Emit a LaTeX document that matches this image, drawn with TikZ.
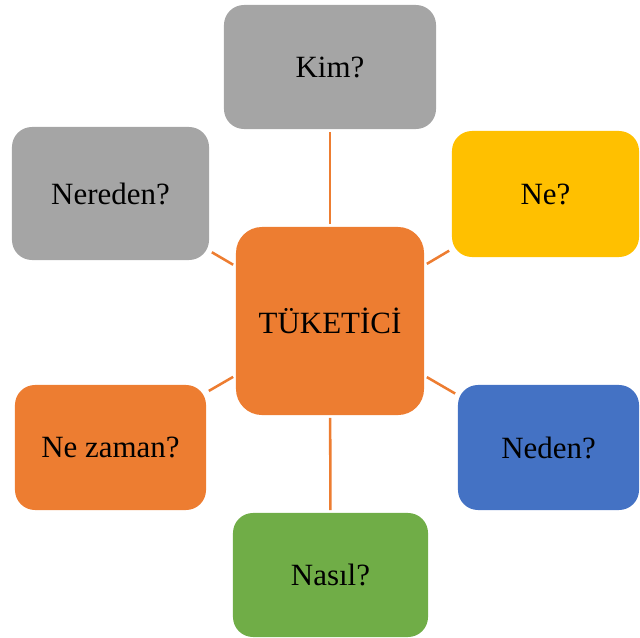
\documentclass[tikz,border=0pt]{standalone}
\usepackage{fontspec}
\setmainfont{Liberation Serif}
\definecolor{soruGri}{RGB}{165,165,165}
\definecolor{soruSari}{RGB}{255,192,0}
\definecolor{soruMavi}{RGB}{68,114,196}
\definecolor{soruYesil}{RGB}{112,173,71}
\definecolor{soruTuruncu}{RGB}{237,125,49}

\begin{document}
\begin{tikzpicture}[x=0.025cm,y=-0.025cm,
    soru/.style={rounded corners=0.5cm,inner sep=0pt,outer sep=2pt,
      font=\fontsize{22}{26}\selectfont,text=black},
    bag/.style={draw=soruTuruncu,line width=1.8pt}]
  \useasboundingbox (0,0) rectangle (640,638);
  % merkez
  \node[soru,fill=soruTuruncu,rounded corners=0.65cm,minimum width=4.7cm,minimum height=4.7cm] (tuketici) at (330,321) {TÜKETİCİ};
  % sorular
  \node[soru,fill=soruGri,minimum width=5.3cm,minimum height=3.1cm] (kim) at (330,67) {Kim?};
  \node[soru,fill=soruSari,minimum width=4.675cm,minimum height=3.15cm] (ne) at (545.5,194) {Ne?};
  \node[soru,fill=soruMavi,minimum width=4.525cm,minimum height=3.125cm] (neden) at (548.5,447.5) {Neden?};
  \node[soru,fill=soruYesil,minimum width=4.875cm,minimum height=3.1cm] (nasil) at (330.5,575) {Nasıl?};
  \node[soru,fill=soruTuruncu,minimum width=4.775cm,minimum height=3.125cm] (nezaman) at (110.5,447.5) {Ne zaman?};
  \node[soru,fill=soruGri,minimum width=4.925cm,minimum height=3.325cm] (nereden) at (110.5,193.5) {Nereden?};
  \foreach \n in {kim,ne,neden,nasil,nezaman,nereden}
    \draw[bag] (tuketici) -- (\n);
\end{tikzpicture}
\end{document}
